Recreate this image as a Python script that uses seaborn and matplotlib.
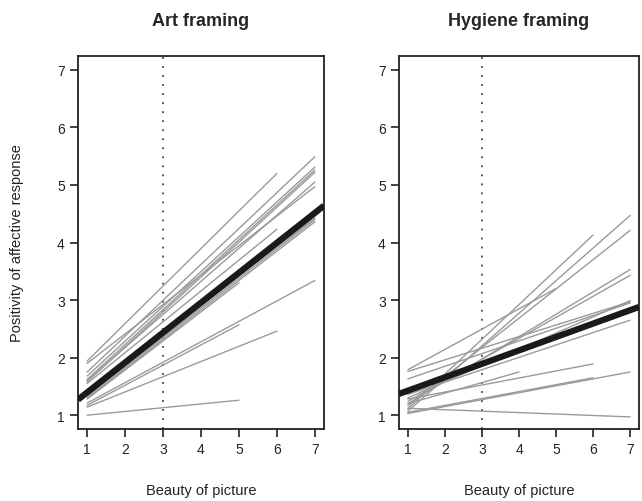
import numpy as np
import pandas as pd
import matplotlib
matplotlib.use("Agg")
import matplotlib.pyplot as plt
import seaborn as sns

# Individual regression lines: start value at x=1, end value at end_x
art_start = [1.94, 1.90, 1.75, 1.68, 1.62, 1.58, 1.60, 1.55, 1.38, 1.33, 1.30, 1.28, 1.21, 1.17, 1.14, 1.00]
art_end = [5.20, 4.97, 5.49, 5.31, 5.26, 5.22, 5.05, 4.23, 4.43, 4.40, 4.36, 3.30, 3.34, 2.57, 2.46, 1.26]
art_end_x = [6, 7, 7, 7, 7, 7, 7, 6, 7, 7, 7, 5, 7, 5, 6, 5]

hyg_start = [1.79, 1.76, 1.63, 1.07, 1.11, 1.16, 1.20, 1.24, 1.30, 1.36, 1.12, 1.03, 1.28, 1.20, 1.05]
hyg_end = [3.20, 2.97, 2.95, 4.47, 4.13, 4.21, 3.53, 3.43, 2.99, 2.65, 0.97, 1.75, 1.89, 1.75, 1.65]
hyg_end_x = [5, 7, 7, 7, 6, 7, 7, 7, 7, 7, 7, 7, 6, 4, 6]

# Overall fixed effect lines (intercept, slope)
art_fixed = (0.875, 0.52)
hyg_fixed = (1.193, 0.233)

titles = ["Art framing", "Hygiene framing"]
xticks = [1, 2, 3, 4, 5, 6, 7]
yticks = [1, 2, 3, 4, 5, 6, 7]
ref_x = 3


def long_df(starts, ends, end_x):
    rows = []
    for i, (s, e, ex) in enumerate(zip(starts, ends, end_x)):
        rows.append({"subject": i, "beauty": 1, "response": s})
        rows.append({"subject": i, "beauty": ex, "response": e})
    return pd.DataFrame(rows)


sns.set_style("ticks")
plt.rcParams["font.family"] = ["Liberation Sans", "DejaVu Sans"]

fig = plt.figure(figsize=(6.42, 5.02), dpi=100)
ax1 = fig.add_axes([78 / 642, 1 - 430 / 502, 246 / 642, 373 / 502])
ax2 = fig.add_axes([399 / 642, 1 - 430 / 502, 240 / 642, 373 / 502])

panels = [
    (ax1, long_df(art_start, art_end, art_end_x), art_fixed, titles[0]),
    (ax2, long_df(hyg_start, hyg_end, hyg_end_x), hyg_fixed, titles[1]),
]

xlim = (0.76, 7.24)
ylim = (0.76, 7.24)

for ax, df, fixed, title in panels:
    ax.axvline(ref_x, color="#444444", lw=1.3, linestyle=(0, (1, 4)), zorder=1)
    sns.lineplot(data=df, x="beauty", y="response", units="subject", estimator=None,
                 color="#9a9a9a", lw=1.0, ax=ax, zorder=2)
    fx = np.array(xlim)
    fdf = pd.DataFrame({"beauty": fx, "response": fixed[0] + fixed[1] * fx})
    sns.lineplot(data=fdf, x="beauty", y="response", color="#1a1a1a", lw=4.5,
                 ax=ax, zorder=3, solid_capstyle="butt")
    ax.set_xlim(*xlim)
    ax.set_ylim(*ylim)
    ax.set_xticks(xticks)
    ax.set_yticks(yticks)
    ax.tick_params(direction="out", length=5.5, width=1.2, labelsize=10, colors="#222222", pad=4)
    for sp in ax.spines.values():
        sp.set_visible(True)
        sp.set_linewidth(1.3)
        sp.set_color("#222222")
    ax.set_xlabel("Beauty of picture", fontsize=10.5, labelpad=19, color="#222222")
    ax.set_ylabel("")
    ax.set_title(title, fontsize=13, fontweight="bold", pad=22)

ax1.set_ylabel("Positivity of affective response", fontsize=10.5, labelpad=24, color="#222222")

fig.savefig("out.png", dpi=100, facecolor="white")
